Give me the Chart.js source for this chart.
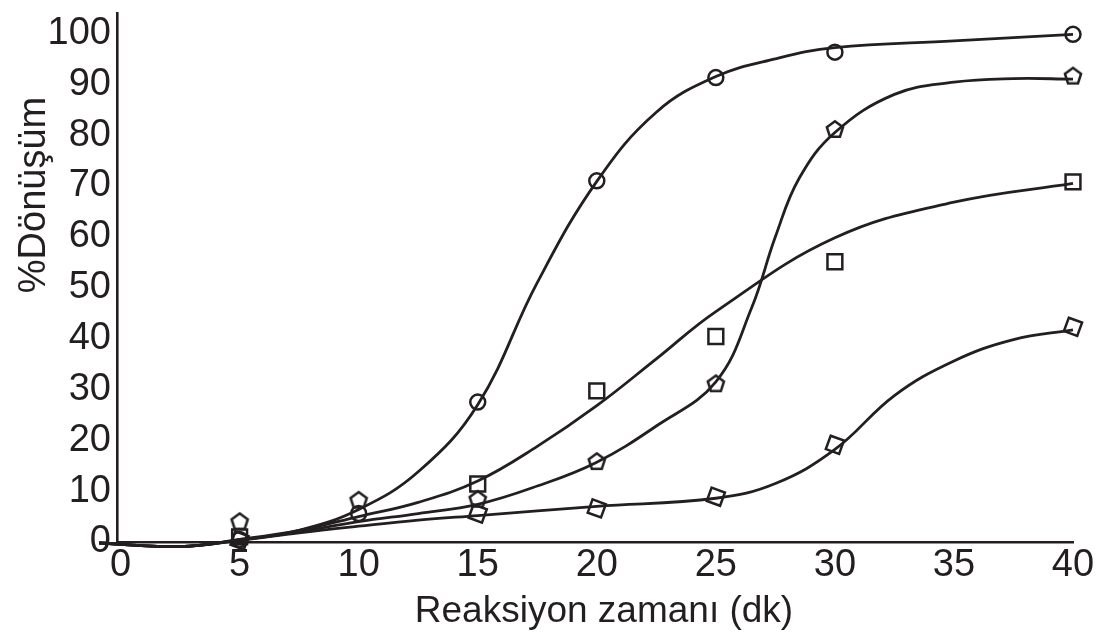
<!DOCTYPE html>
<html>
<head>
<meta charset="utf-8">
<script src="https://cdn.jsdelivr.net/npm/chart.js@4/dist/chart.umd.min.js"></script>
<style>
  html, body { margin: 0; padding: 0; background: #ffffff; }
  #wrap { width: 1099px; height: 637px; }
</style>
</head>
<body>
<div id="wrap"><canvas id="c" width="1099" height="637"></canvas></div>
<script>
// ---- data ----
const xTickValues = [0, 5, 10, 15, 20, 25, 30, 35, 40];
const yTickValues = [0, 10, 20, 30, 40, 50, 60, 70, 80, 90, 100];
const xTitle = 'Reaksiyon zamanı (dk)';
const yTitle = '%Dönüşüm';

// measured points (markers)
const circleX = [5, 10, 15, 20, 25, 30, 40];
const circleY = [0.5, 5.6, 27.5, 71, 91.3, 96.3, 99.8];
const pentagonX = [5, 10, 15, 20, 25, 30, 40];
const pentagonY = [4.1, 8.3, 8.5, 15.9, 31.2, 81.2, 91.7];
const squareX = [5, 15, 20, 25, 30, 40];
const squareY = [1.0, 11.4, 29.7, 40.4, 55.1, 70.8];
const tiltedX = [5, 15, 20, 25, 30, 40];
const tiltedY = [0.3, 5.6, 6.6, 8.9, 19.1, 42.3];

// fitted curves [x, y]
const circleFit = [[-0.9,-0.2],[2.5,-0.9],[5,0.4],[7.5,2.3],[10,6.4],[12.5,13.8],[15,27],[17.5,51],[20,70.9],[22.5,84.5],[25,91.5],[27.5,95],[30,97.2],[35,98.5],[40,99.8]];
const pentagonFit = [[-0.9,-0.2],[2.5,-0.9],[5,0.4],[7.5,2.0],[10,4.0],[12.5,5.6],[15,7.4],[17.5,11],[20,15.7],[22.5,22.8],[25,31.5],[26.5,46],[27.5,60],[28.5,71.5],[30,80.5],[32.5,88],[35,90.4],[37.5,91.1],[40,91]];
const squareFit = [[-0.9,-0.2],[2.5,-0.9],[5,0.5],[7.5,2.3],[10,5.0],[12.5,7.8],[15,12],[17.5,18.8],[20,26.8],[22.5,36],[25,45.3],[30,59.8],[35,66.8],[40,70.5]];
const tiltedFit = [[-0.9,-0.2],[2.5,-0.9],[5,0.3],[7.5,1.8],[10,3.1],[12.5,4.3],[15,5.2],[20,7],[25,8.6],[27.5,11.5],[30,18.2],[32.5,28.8],[35,35.6],[37.5,39.8],[40,41.7]];

// ---- styling ----
const INK = '#231f20';
const FONT = '"Liberation Sans", Arial, Helvetica, sans-serif';

function pentagonImage() {
  const c = document.createElement('canvas');
  c.width = 22; c.height = 22;
  const g = c.getContext('2d');
  g.strokeStyle = INK; g.lineWidth = 2.5; g.lineJoin = 'miter';
  g.beginPath();
  const r = 8.5, cx = 11, cy = 11.8;
  for (let i = 0; i < 5; i++) {
    const a = -Math.PI / 2 + i * 2 * Math.PI / 5;
    const px = cx + r * Math.cos(a), py = cy + r * Math.sin(a);
    if (i === 0) g.moveTo(px, py); else g.lineTo(px, py);
  }
  g.closePath(); g.stroke();
  return c;
}
const pent = pentagonImage();

const zip = (xs, ys) => xs.map((x, i) => ({ x: x, y: ys[i] }));
const pairs = (arr) => arr.map(p => ({ x: p[0], y: p[1] }));

function curve(data) {
  return {
    type: 'line', data: pairs(data), borderColor: INK, borderWidth: 2.8,
    pointRadius: 0, tension: 0.4, fill: false, clip: false
  };
}
function markers(data, style, radius, rotation) {
  return {
    type: 'scatter', data: data, showLine: false, pointStyle: style,
    pointRadius: radius, pointHoverRadius: radius, pointRotation: rotation || 0,
    borderColor: INK, borderWidth: 2.5, backgroundColor: 'rgba(0,0,0,0)', clip: false
  };
}

const titlePlugin = {
  id: 'titles',
  afterDraw(chart) {
    const ctx = chart.ctx;
    ctx.save();
    ctx.fillStyle = INK;
    ctx.textAlign = 'center';
    ctx.textBaseline = 'alphabetic';
    ctx.font = '37px ' + FONT;
    ctx.fillText(xTitle, 604, 622);
    ctx.font = '38px ' + FONT;
    ctx.translate(45, 195);
    ctx.rotate(-Math.PI / 2);
    ctx.fillText(yTitle, 0, 0);
    ctx.restore();
  }
};

new Chart(document.getElementById('c'), {
  data: {
    datasets: [
      curve(circleFit), curve(pentagonFit), curve(squareFit), curve(tiltedFit),
      markers(zip(circleX, circleY), 'circle', 7.5),
      markers(zip(pentagonX, pentagonY), pent, 9),
      markers(zip(squareX, squareY), 'rect', 10.5),
      markers(zip(tiltedX, tiltedY), 'rect', 10, 20)
    ]
  },
  options: {
    responsive: false,
    animation: false,
    events: [],
    layout: { padding: { left: 0, top: 5, right: 26, bottom: 0 } },
    plugins: { legend: { display: false }, tooltip: { enabled: false } },
    scales: {
      x: {
        type: 'linear', min: -0.15, max: 40,
        afterBuildTicks: s => { s.ticks = xTickValues.map(v => ({ value: v })); },
        afterFit: s => { s.height = 95; s.paddingLeft = 0; s.paddingRight = 0; },
        grid: { display: false, drawTicks: false, tickLength: 0 },
        border: { display: true, color: INK, width: 2.6 },
        ticks: { autoSkip: false, maxRotation: 0, padding: 1, color: INK, font: { family: FONT, size: 38 },
                 callback: v => String(v) }
      },
      y: {
        type: 'linear', min: 0, max: 104,
        afterBuildTicks: s => { s.ticks = yTickValues.map(v => ({ value: v })); },
        afterFit: s => { s.width = 117; s.paddingTop = 0; s.paddingBottom = 0; },
        grid: { display: false, drawTicks: false, tickLength: 0 },
        border: { display: true, color: INK, width: 2.6 },
        ticks: { autoSkip: false, padding: 6, color: INK, font: { family: FONT, size: 38 },
                 callback: v => String(v) }
      }
    }
  },
  plugins: [titlePlugin]
});
</script>
</body>
</html>
